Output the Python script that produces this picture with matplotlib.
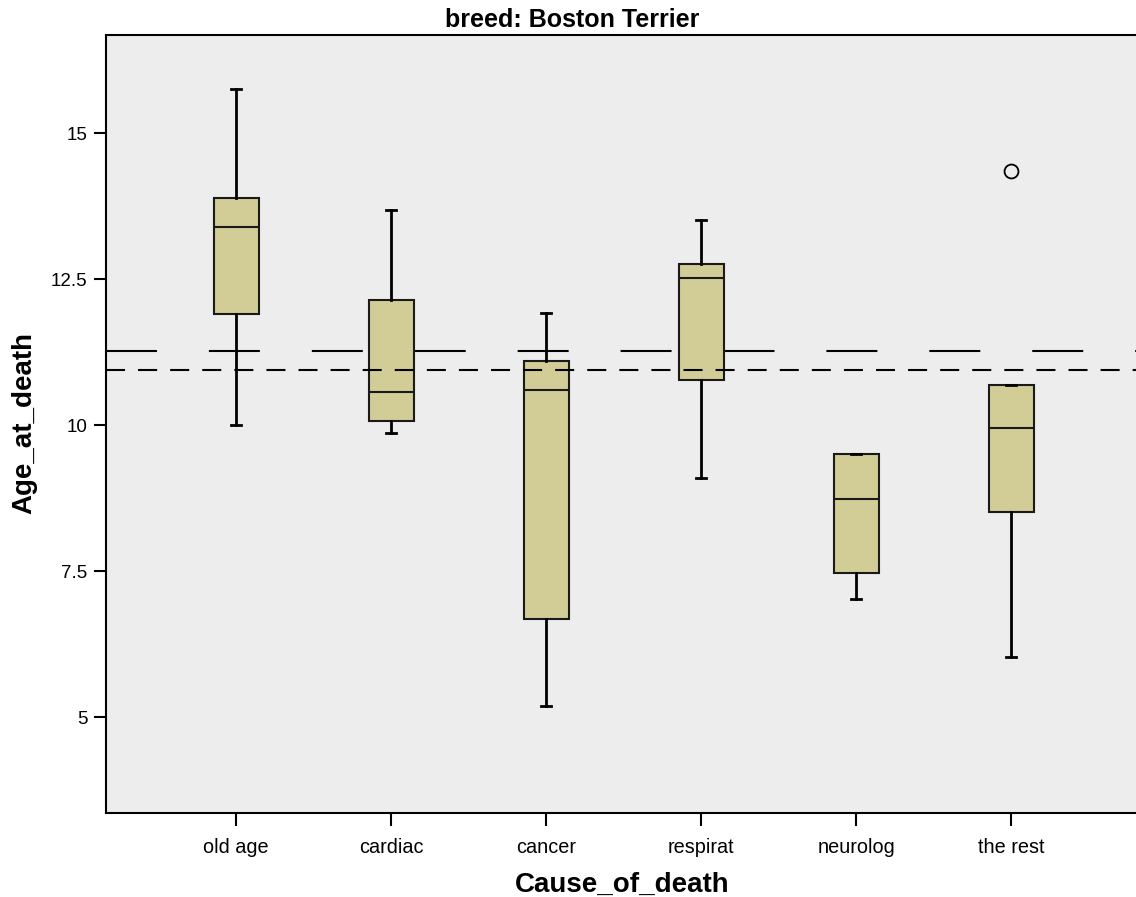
import matplotlib
matplotlib.use("Agg")
import matplotlib.pyplot as plt

categories = ["old age", "cardiac", "cancer", "respirat", "neurolog", "the rest"]
whisker_low = [10.0, 9.86, 5.19, 9.09, 7.02, 6.03]
q1 = [11.90, 10.07, 6.68, 10.77, 7.47, 8.51]
median = [13.39, 10.56, 10.60, 12.52, 8.73, 9.95]
q3 = [13.89, 12.14, 11.10, 12.76, 9.50, 10.68]
whisker_high = [15.75, 13.68, 11.92, 13.51, 9.50, 10.68]
outliers = [[], [], [], [], [], [14.35]]
ref_long = 11.27
ref_short = 10.94
yticks = [5, 7.5, 10, 12.5, 15]
ytick_labels = ["5", "7.5", "10", "12.5", "15"]

plt.rcParams['font.family'] = ['Liberation Sans', 'DejaVu Sans']
plt.rcParams['lines.scale_dashes'] = False

fig = plt.figure(figsize=(11.36, 8.97), dpi=100)
ax = fig.add_axes([106/1136, 84/897, 1 - 106/1136, (813-35)/897])
ax.set_facecolor("#EDEDED")

stats = []
for i, c in enumerate(categories):
    stats.append(dict(label=c, whislo=whisker_low[i], q1=q1[i], med=median[i],
                      q3=q3[i], whishi=whisker_high[i], fliers=outliers[i]))
pos = list(range(len(categories)))
ax.axhline(ref_long, color="black", lw=1.5, dashes=(36.7, 37.4), zorder=1)
ax.bxp(stats, positions=pos, widths=0.29, patch_artist=True,
       boxprops=dict(facecolor="#D2CD96", edgecolor="#1a1a1a", linewidth=1.5),
       medianprops=dict(color="#1a1a1a", linewidth=1.5),
       whiskerprops=dict(color="black", linewidth=2),
       capprops=dict(color="black", linewidth=2),
       capwidths=0.065,
       flierprops=dict(marker="o", markerfacecolor="none", markeredgecolor="black",
                       markersize=10, markeredgewidth=1.3),
       zorder=2)
ax.axhline(ref_short, color="black", lw=1.5, dashes=(13.7, 9.4), zorder=3)

ax.set_xlim(-0.839, 5.806)
ax.set_ylim(3.356, 16.68)
ax.set_yticks(yticks)
ax.set_yticklabels(ytick_labels)
ax.set_xticks(pos)
ax.set_xticklabels(categories)
ax.tick_params(axis="both", direction="out", length=9, width=1.5, colors="black")
ax.tick_params(axis="x", pad=9, labelsize=14.3)
ax.tick_params(axis="y", pad=4.3, labelsize=13.5)
for s in ["top", "left", "bottom"]:
    ax.spines[s].set_linewidth(1.5)
    ax.spines[s].set_color("black")
ax.spines["right"].set_visible(False)

ax.set_xlabel("Cause_of_death", fontsize=20, fontweight="bold", va="baseline")
ax.xaxis.set_label_coords((622-106)/1030, -(892-813)/778)
ax.set_ylabel("Age_at_death", fontsize=20, fontweight="bold", va="center")
ax.yaxis.set_label_coords((24-106)/1030, (813-423)/778)
fig.text(572/1136, 1 - 27/897, "breed: Boston Terrier", ha="center", va="baseline",
         fontsize=18, fontweight="bold")

fig.savefig("out.png", dpi=100)
